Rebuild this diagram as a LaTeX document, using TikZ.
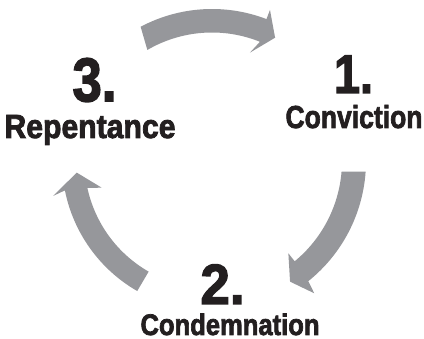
\documentclass[tikz,border=0pt]{standalone}
\usepackage{fontspec}
\setmainfont{Liberation Sans}
\newfontfamily\heavyfont{Liberation Sans}[UprightFont={* Bold}, FakeBold=2.5]
\usetikzlibrary{calc}
\definecolor{arrowgray}{RGB}{150,151,155}
\definecolor{txt}{RGB}{35,31,32}
\begin{document}
\begin{tikzpicture}[x=1pt,y=1pt,
  lbl/.style={inner sep=0pt, outer sep=0pt, anchor=base west, text=txt, font=\heavyfont},
  cyclearrow/.style={fill=arrowgray, draw=none}]
\fill[white] (0,0) rectangle (424,339);
\useasboundingbox (0,0) rectangle (424,339);
\coordinate (C) at (212,178);
% top arrow (3 -> 1)
\fill[cyclearrow] ($(C)+(118:152)$) arc[start angle=118, end angle=69, radius=152]
  -- ($(C)+(69:161.8)$) -- ($(C)+(62.9:138.5)$) -- ($(C)+(70.7:114.8)$)
  -- ($(C)+(68.1:128.5)$) arc[start angle=68.1, end angle=120.2, radius=128.5] -- cycle;
% right arrow (1 -> 2)
\fill[cyclearrow] ($(C)+(-4:154)$) arc[start angle=-4, end angle=-51.3, radius=154]
  -- ($(C)+(-52.3:167.2)$) -- ($(C)+(-57.1:143.7)$) -- ($(C)+(-50.4:119.8)$)
  -- ($(C)+(-50.5:130)$) arc[start angle=-50.5, end angle=-4.7, radius=130] -- cycle;
% left arrow (2 -> 3)
\fill[cyclearrow] ($(C)+(240.1:150)$) arc[start angle=240.1, end angle=191.3, radius=150]
  -- ($(C)+(192.4:162.5)$) -- ($(C)+(184.9:135.8)$) -- ($(C)+(193.6:113.5)$)
  -- ($(C)+(192.2:127.5)$) arc[start angle=192.2, end angle=240.2, radius=127.5] -- cycle;
% labels
\node[lbl] (n3) at (72.5,237.8) {\resizebox{44pt}{43pt}{3.}};
\node[lbl] (t3) at (4.5,201) {\resizebox{171pt}{23pt}{Repentance}};
\node[lbl] (n1) at (334,246) {\resizebox{39pt}{37.5pt}{1.}};
\node[lbl] (t1) at (285.5,211) {\resizebox{137pt}{23pt}{Conviction}};
\node[lbl] (n2) at (200.5,35) {\resizebox{44pt}{39.5pt}{2.}};
\node[lbl] (t2) at (140.5,4) {\resizebox{179pt}{21.5pt}{Condemnation}};
\end{tikzpicture}
\end{document}
